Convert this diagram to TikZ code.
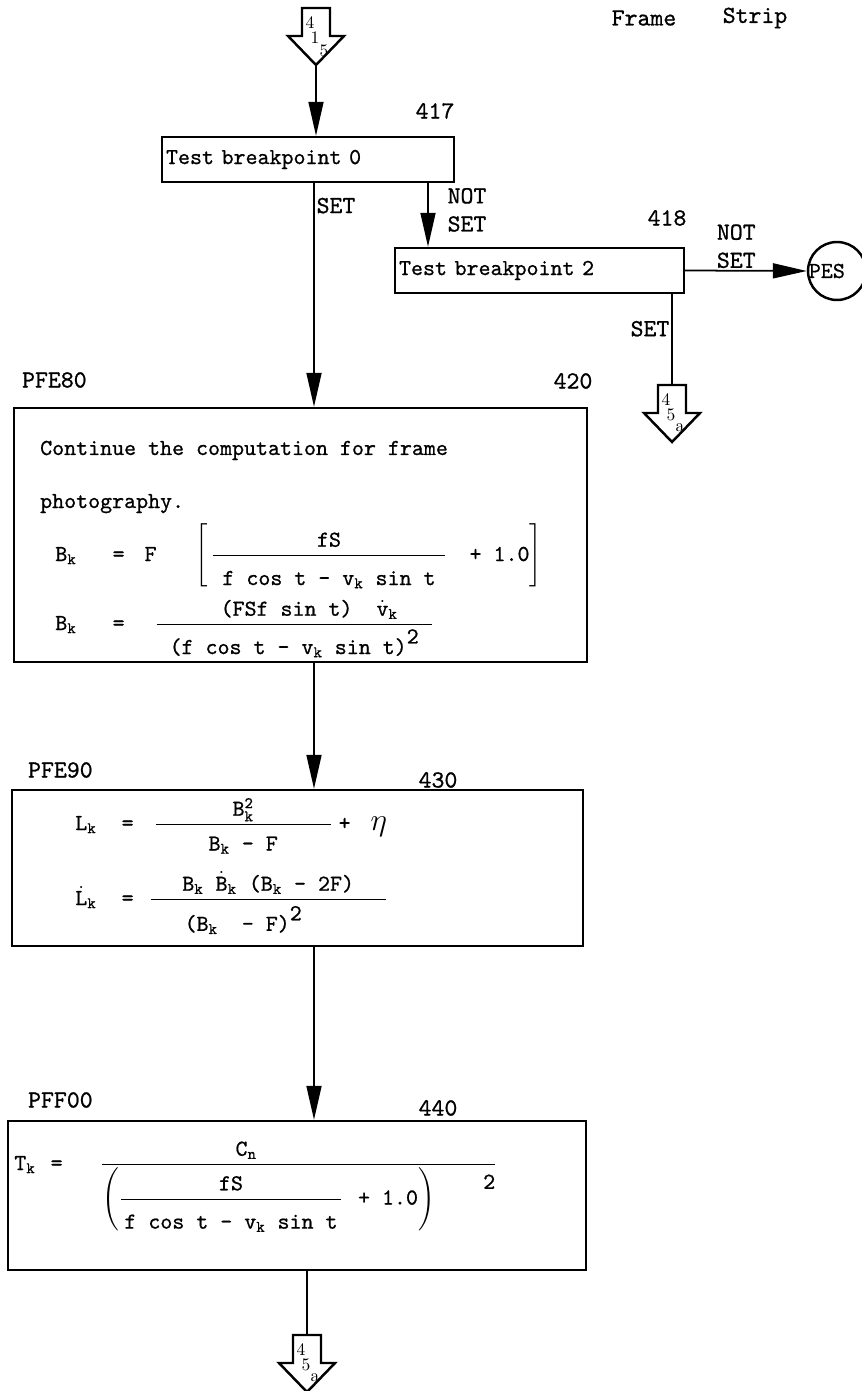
\documentclass[tikz,border=0pt]{standalone}
\usepackage{amsmath}
\usepackage{fontspec}
\setmonofont{lmmono10-regular.otf}[FakeBold=0.8]
\usetikzlibrary{arrows.meta, positioning, calc}

\begin{document}
\begin{tikzpicture}[
  x=0.02cm, y=-0.02cm,
  every node/.style={font=\ttfamily\fontsize{13}{15}\selectfont},
  blk/.style={draw, line width=1.4pt, inner sep=0pt},
  lbl/.style={font=\ttfamily\fontsize{14}{16}\selectfont, inner sep=1pt},
  hand/.style={font=\fontsize{10}{11}\selectfont, inner sep=0pt},
  flow/.style={line width=1pt},
  arr/.style={flow, -{Triangle[length=0.68cm, width=0.3cm]}},
  pics/offpage/.style n args={3}{code={
    \draw[blk] (-14,0) -- (14,0) -- (14,28) -- (28,28) -- (0,57)
      -- (-28,28) -- (-14,28) -- cycle;
    \node[hand] at (-6,15) {#1};
    \node[hand] at (-1,30) {#2};
    \node[hand] at (8,43) {#3};
    \coordinate (-top) at (0,0);
    \coordinate (-tip) at (0,57);
  }}
]
  \useasboundingbox (0,0) rectangle (861,1391);

  % Header
  \node[lbl] at (644,18) {Frame};
  \node[lbl] at (755,18) {Strip};

  % Entry
  \pic (in) at (316,8) {offpage={4}{1}{5}};

  % Breakpoint tests
  \node[blk, text width=5.68cm, align=left, inner xsep=0.08cm,
    minimum height=0.9cm] (b417) at (308,159.5) {Test breakpoint 0};
  \node[lbl] at (435,111) {417};
  \node[blk, text width=5.62cm, align=left, inner xsep=0.08cm,
    minimum height=0.9cm] (b418) at (539.5,270.5) {Test breakpoint 2};
  \node[lbl] at (667,218) {418};
  \node[blk, circle, minimum size=1.16cm] (pes) at (837,271) {};
  \node[anchor=west, inner sep=1pt] at (pes.west) {PES};
  \pic (out1) at (672,385) {offpage={4}{5}{a}};

  \coordinate (col) at (314,0);
  \coordinate (c2) at (428,0);
  \coordinate (c3) at (672,0);

  \draw[arr] (in-tip) -- (in-tip |- b417.north);
  \draw[arr] (b417.south -| c2) -- node[lbl, right=0.34cm, align=left, pos=0.42] {NOT\\SET}
    (b418.north -| c2);
  \draw[arr] (b418.east) -- node[lbl, above, align=left, pos=0.42] {NOT\\SET} (pes.west);
  \draw[flow] (b418.south -| c3) -- node[lbl, left, pos=0.38] {SET} (out1-top);

  % Frame computation
  \node[blk, minimum width=11.46cm, minimum height=5.08cm] (b420) at (300.5,535) {};
  \node[lbl, anchor=west] at (20,380) {PFE80};
  \node[lbl] at (573,381) {420};
  \draw[arr] (b417.south -| col) -- node[lbl, right, pos=0.1] {SET} (b420.north -| col);

  \node[anchor=base west] at (34,455) {Continue the computation for frame};
  \node[anchor=base west] at (34,508) {photography.};
  \node[anchor=base west, inner sep=0pt] at (55,561)
    {$\displaystyle \text{B}_{\text{k}}\hspace{0.72cm}\text{=}\hspace{0.4cm}\text{F}\hspace{0.7cm}
     \left[\,\frac{\makebox[4.64cm]{fS}}{\makebox[4.64cm]{\rule{0pt}{15pt}f cos t - v$_{\text{k}}$ sin t}}
     \hspace{0.45cm}\text{+ 1.0}\right]$};
  \node[anchor=base west, inner sep=0pt] at (55,630)
    {$\displaystyle \text{B}_{\text{k}}\hspace{0.72cm}\text{=}\hspace{0.6cm}
     \frac{\makebox[5.5cm]{\hspace{0.6cm}(FSf sin t)\ \ $\dot{\text{v}}_{\text{k}}$}}
     {\makebox[5.5cm]{\rule{0pt}{15pt}(f cos t - v$_{\text{k}}$ sin t)\raisebox{6pt}{2}}}$};

  % Lead length
  \node[blk, minimum width=11.42cm, minimum height=3.12cm] (b430) at (297.5,868) {};
  \node[lbl, anchor=west] at (26,770) {PFE90};
  \node[lbl] at (438,780) {430};
  \draw[arr] (b420.south -| col) -- (b430.north -| col);

  \node[anchor=base west, inner sep=0pt] at (75,830)
    {$\displaystyle \text{L}_{\text{k}}\hspace{0.5cm}\text{=}\hspace{0.4cm}
     \frac{\makebox[3.5cm]{B$_{\text{k}}^{\text{2}}$}}{\makebox[3.5cm]{\rule{0pt}{13pt}B$_{\text{k}}$ - F}}
     \;\text{+}\hspace{0.4cm}\scalebox{1.5}{$\eta$}$};
  \node[anchor=base west, inner sep=0pt] at (75,905)
    {$\displaystyle \dot{\text{L}}_{\text{k}}\hspace{0.5cm}\text{=}\hspace{0.3cm}
     \frac{\makebox[4.7cm]{B$_{\text{k}}$ $\dot{\text{B}}_{\text{k}}$ (B$_{\text{k}}$ - 2F)}}
     {\makebox[4.7cm]{\rule{0pt}{16pt}(B$_{\text{k}}$\ \ - F)\raisebox{6pt}{2}\hspace{1cm}}}$};

  % Exposure time
  \node[blk, minimum width=11.56cm, minimum height=2.98cm] (b440) at (297,1195.5) {};
  \node[lbl, anchor=west] at (26,1100) {PFF00};
  \node[lbl] at (438,1108) {440};
  \draw[arr] (b430.south -| col) -- (b440.north -| col);

  \node[anchor=base west, inner sep=0pt] at (14,1170)
    {$\displaystyle \text{T}_{\text{k}}\hspace{0.3cm}\text{=}\hspace{0.75cm}
     \frac{\text{C}_{\text{n}}\hspace{2.1cm}}
     {{\displaystyle\left(\frac{\makebox[4.4cm]{fS}}{\makebox[4.4cm]{\rule{0pt}{15pt}f cos t - v$_{\text{k}}$ sin t}}
     \hspace{0.3cm}\text{+ 1.0}\right)\hspace{0.9cm}\raisebox{9pt}{2}}}$};

  \pic (out2) at (307,1335) {offpage={4}{5}{a}};
  \draw[flow] (b440.south -| out2-top) -- (out2-top);
\end{tikzpicture}
\end{document}
